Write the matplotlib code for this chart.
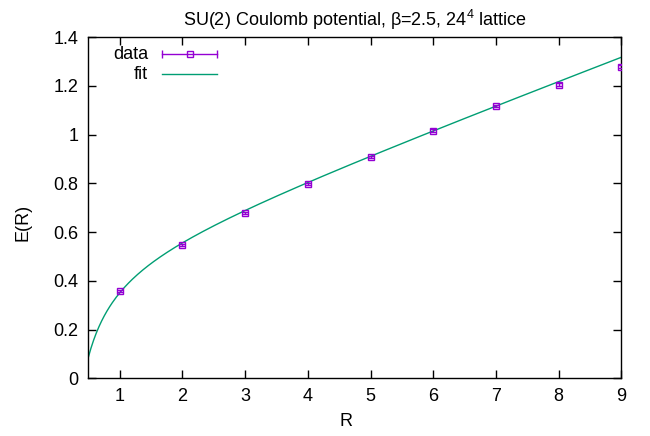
import matplotlib
matplotlib.use("Agg")
import matplotlib.pyplot as plt
import numpy as np

plt.rcParams['font.family'] = ['Liberation Sans', 'DejaVu Sans']
plt.rcParams['mathtext.fontset'] = 'custom'
plt.rcParams['mathtext.rm'] = 'Liberation Sans'

# data
r_values = [1, 2, 3, 4, 5, 6, 7, 8, 9]
energy = [0.357, 0.545, 0.679, 0.796, 0.908, 1.016, 1.117, 1.204, 1.279]
energy_err = [0.004, 0.004, 0.004, 0.004, 0.004, 0.005, 0.005, 0.006, 0.007]

# fit parameters: E(R) = c - a/R + sigma*R
fit_c = 0.470
fit_a = 0.2166
fit_sigma = 0.0968

purple = '#9400d3'
green = '#009e73'
fs = 13

fig = plt.figure(figsize=(6.5, 4.36), dpi=100)
ax = fig.add_axes([0.1358, 0.1323, 0.8203, 0.7828])

x_fit = np.linspace(0.5, 9, 400)
y_fit = fit_c - fit_a / x_fit + fit_sigma * x_fit

ax.errorbar(r_values, energy, yerr=energy_err, fmt='s', mfc='none', mec=purple,
            ecolor=purple, ms=5, mew=1, elinewidth=1, capsize=2.5, zorder=3)
ax.plot(x_fit, y_fit, color=green, lw=1, zorder=2)

ax.set_xlim(0.5, 9)
ax.set_ylim(0, 1.4)
ax.set_xticks(range(1, 10))
ax.set_yticks([0, 0.2, 0.4, 0.6, 0.8, 1, 1.2, 1.4])
ax.set_yticklabels(['0', '0.2', '0.4', '0.6', '0.8', '1', '1.2', '1.4'])
ax.tick_params(direction='in', length=6, width=1, top=True, right=True, labelsize=fs, pad=7)
for s in ax.spines.values():
    s.set_linewidth(1)

ax.set_xlabel('R', fontsize=fs)
ax.set_ylabel('E(R)', fontsize=fs)
ax.xaxis.set_label_coords(0.483, -0.102)
ax.yaxis.set_label_coords(-0.106, 0.458)
ax.set_title('SU(2) Coulomb potential, β=2.5, 24$^{4}$ lattice', fontsize=fs, pad=8)

# gnuplot style key, drawn by hand
tr = ax.transAxes
ax.text(0.112, 0.950, 'data', ha='right', va='center', fontsize=fs, transform=tr)
ax.text(0.112, 0.8916, 'fit', ha='right', va='center', fontsize=fs, transform=tr)
ax.plot([0.138, 0.241], [0.950, 0.950], color=purple, lw=1, transform=tr, clip_on=False)
ax.plot([0.138, 0.241], [0.950, 0.950], ls='none', marker='|', ms=6, mew=1,
        color=purple, transform=tr, clip_on=False)
ax.plot([0.19], [0.950], ls='none', marker='s', ms=5, mfc='none', mec=purple, mew=1,
        transform=tr, clip_on=False)
ax.plot([0.138, 0.241], [0.8916, 0.8916], color=green, lw=1, transform=tr, clip_on=False)

fig.savefig('out.png', dpi=100)
